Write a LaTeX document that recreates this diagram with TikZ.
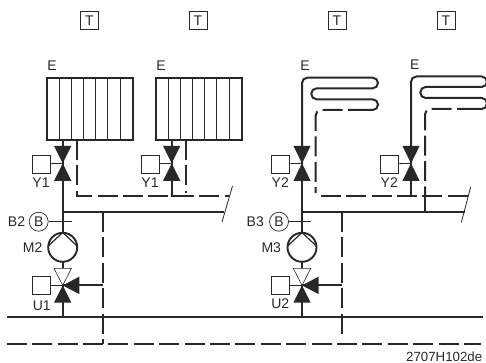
\documentclass[tikz,border=0pt]{standalone}
\usepackage{fontspec}
\setmainfont{Liberation Sans}
\usetikzlibrary{calc}
\definecolor{ink}{RGB}{40,40,40}

\begin{document}
\begin{tikzpicture}[x=1pt, y=-1pt, ink,
lbl/.style={inner sep=0pt,font=\fontsize{14}{14}\selectfont},
room/.style={draw,line width=0.9pt,inner sep=0pt,minimum size=18pt,font=\fontsize{14}{14}\selectfont},
actuator/.style={draw,line width=0.9pt,inner sep=0pt,minimum size=18pt},
sensor/.style={circle,draw,line width=0.7pt,inner sep=0pt,minimum size=19pt,font=\fontsize{14}{14}\selectfont},
pumpc/.style={circle,draw,line width=1.9pt,inner sep=0pt,minimum size=29pt},
pipe/.style={line width=2pt},
ret/.style={line width=2pt,dash pattern=on 20pt off 5.4pt},
rib/.style={line width=0.8pt},
thinl/.style={line width=0.8pt},
opentri/.style={line width=0.6pt,draw,fill=white}]
\useasboundingbox (0,0) rectangle (486,363);

% room units
\node [room] (ta) at (89.5,20.5) {T};
\node [room] (tb) at (198,20.5) {T};
\node [room] (tc) at (337,20.5) {T};
\node [room] (td) at (446,20.5) {T};

\node [lbl] (ea) at (52,66) {E};
\node [lbl] (eb) at (161,66) {E};
\node [lbl] (ec) at (305,66) {E};
\node [lbl] (ed) at (414.7,65) {E};

% radiators
\draw [pipe] (46.7,77.7) rectangle (133.3,140);
\draw [rib] (59,77.7) -- (59,140);
\draw [rib] (71,77.7) -- (71,140);
\draw [rib] (83.3,77.7) -- (83.3,140);
\draw [rib] (95.7,77.7) -- (95.7,140);
\draw [rib] (107.7,77.7) -- (107.7,140);
\draw [rib] (120.7,77.7) -- (120.7,140);

\draw [pipe] (155.7,77.7) rectangle (242,140);
\draw [rib] (168,77.7) -- (168,140);
\draw [rib] (180,77.7) -- (180,140);
\draw [rib] (192.3,77.7) -- (192.3,140);
\draw [rib] (204.7,77.7) -- (204.7,140);
\draw [rib] (216.7,77.7) -- (216.7,140);
\draw [rib] (229.7,77.7) -- (229.7,140);

% valves
\coordinate (va) at (62.7,163.3);
\coordinate (vb) at (171.7,163.3);
\coordinate (vc) at (302,163.3);
\coordinate (vd) at (411,163.3);
\coordinate (ua) at (62.7,285.4);
\coordinate (ub) at (302,285.4);

% supply main, return main
\coordinate (fa) at (62.7,212);
\coordinate (fae) at (224.3,212);
\coordinate (fc) at (302,212);
\coordinate (fce) at (464.7,212);
\coordinate (ma) at (6.7,317.3);
\coordinate (mae) at (483,317.3);
\coordinate (mb) at (6.7,343.5);
\coordinate (mbe) at (481,343.5);

\draw [pipe] (ma) -- (mae);
\draw [ret] (mb) -- (mbe);

\draw [pipe] (62.7,140) -- (va) -- (fa) -- (fae);
\draw [pipe] (171.7,140) -- (vb) -- (171.7,196) -- (185.7,196);
\draw [pipe] (fa) -- (ua) -- (62.7,317.3);
\draw [pipe] (vc) -- (fc) -- (fce);
\draw [pipe] (fc) -- (ub) -- (302,317.3);
\draw [pipe] (vd) -- (411,196);
\draw [pipe] (425,196) -- (425,212);

% return pipes
\draw [ret] (77.3,140) -- (77.3,196) -- (229,196);
\draw [ret] (185.7,140) -- (185.7,193);
\draw [ret] (102.7,212) -- (102.7,343.5);
\draw [ret] (342,212) -- (342,335.7);
\draw [pipe] (ua) -- (102.7,285.4);
\draw [pipe] (ub) -- (342,285.4);
\draw [ret] (320.7,196) -- (468,196);

% underfloor coils
\draw [pipe,rounded corners=5.3pt] (vc) |- (378,77.7) |- (311.3,88.3) |- (378,99.3) |- (368,110);
\draw [ret,rounded corners=5.3pt] (368,110) -| (315.7,193);
\draw [pipe,rounded corners=5.3pt] (vd) |- (487,76.5) |- (420.3,87) |- (487,98) |- (477,109);
\draw [ret,rounded corners=5.3pt] (477,109) -| (425,196);

% valve bodies
\fill ($(va)+(-8.7,-17.5)$) -- ($(va)+(8.7,-17.5)$) -- (va) -- cycle;
\fill ($(va)+(-8.7,17.7)$) -- ($(va)+(8.7,17.7)$) -- (va) -- cycle;
\fill ($(vb)+(-8.7,-17.5)$) -- ($(vb)+(8.7,-17.5)$) -- (vb) -- cycle;
\fill ($(vb)+(-8.7,17.7)$) -- ($(vb)+(8.7,17.7)$) -- (vb) -- cycle;
\fill ($(vc)+(-8.7,-17.5)$) -- ($(vc)+(8.7,-17.5)$) -- (vc) -- cycle;
\fill ($(vc)+(-8.7,17.7)$) -- ($(vc)+(8.7,17.7)$) -- (vc) -- cycle;
\fill ($(vd)+(-8.7,-17.5)$) -- ($(vd)+(8.7,-17.5)$) -- (vd) -- cycle;
\fill ($(vd)+(-8.7,17.7)$) -- ($(vd)+(8.7,17.7)$) -- (vd) -- cycle;

\draw [opentri] ($(ua)+(-8.7,-17)$) -- ($(ua)+(8.7,-17)$) -- (ua) -- cycle;
\fill ($(ua)+(-8.7,17.3)$) -- ($(ua)+(8.7,17.3)$) -- (ua) -- cycle;
\fill ($(ua)+(16.7,-8.8)$) -- ($(ua)+(16.7,8.8)$) -- (ua) -- cycle;
\draw [opentri] ($(ub)+(-8.7,-17)$) -- ($(ub)+(8.7,-17)$) -- (ub) -- cycle;
\fill ($(ub)+(-8.7,17.3)$) -- ($(ub)+(8.7,17.3)$) -- (ub) -- cycle;
\fill ($(ub)+(16.7,-8.8)$) -- ($(ub)+(16.7,8.8)$) -- (ub) -- cycle;

% actuators
\node [actuator] (ya) at (41,164) {};
\node [actuator] (yb) at (150,164) {};
\node [actuator] (yc) at (280.2,164) {};
\node [actuator] (yd) at (389.2,164) {};
\node [actuator] (xa) at (41,285.7) {};
\node [actuator] (xb) at (280.2,285.7) {};

\draw [thinl] (ya) -- (va);
\draw [thinl] (yb) -- (vb);
\draw [thinl] (yc) -- (vc);
\draw [thinl] (yd) -- (vd);
\draw [thinl] (xa) -- (ua);
\draw [thinl] (xb) -- (ub);

\node [lbl] (lya) at (41,183) {Y1};
\node [lbl] (lyb) at (150,183) {Y1};
\node [lbl] (lyc) at (280.3,183) {Y2};
\node [lbl] (lyd) at (389.3,183) {Y2};
\node [lbl] (lua) at (41.7,305.7) {U1};
\node [lbl] (lub) at (280.3,304) {U2};

% sensors
\node [sensor] (ba) at (38.7,221.7) {B};
\node [sensor] (bb) at (279,221.7) {B};
\coordinate (bae) at (72.3,221.7);
\coordinate (bbe) at (311.3,221.7);
\draw [thinl] (ba) -- (bae);
\draw [thinl] (bb) -- (bbe);
\node [lbl] (lba) at (16.5,221.7) {B2};
\node [lbl] (lbb) at (255.3,221.7) {B3};

% pumps
\node [pumpc,fill=white] (pa) at (62.7,247.3) {};
\node [pumpc,fill=white] (pb) at (302,247.3) {};
\draw [line width=1.2pt] (48.3,246) -- (62.7,232.5) -- (77.1,246);
\draw [line width=1.2pt] (287.6,246) -- (302,232.5) -- (316.4,246);
\node [lbl] (lpa) at (32.7,247.3) {M2};
\node [lbl] (lpb) at (271.3,247.3) {M3};

% line breaks
\coordinate (sa) at (232.5,186);
\coordinate (sae) at (222,222);
\coordinate (sb) at (470.7,187);
\coordinate (sbe) at (461.3,222.3);
\draw [thinl] (sa) -- (sae);
\draw [thinl] (sb) -- (sbe);

\node [lbl,font=\fontsize{13.3}{14}\selectfont,anchor=east] (code) at (482.5,356.5) {2707H102de};
\end{tikzpicture}
\end{document}
